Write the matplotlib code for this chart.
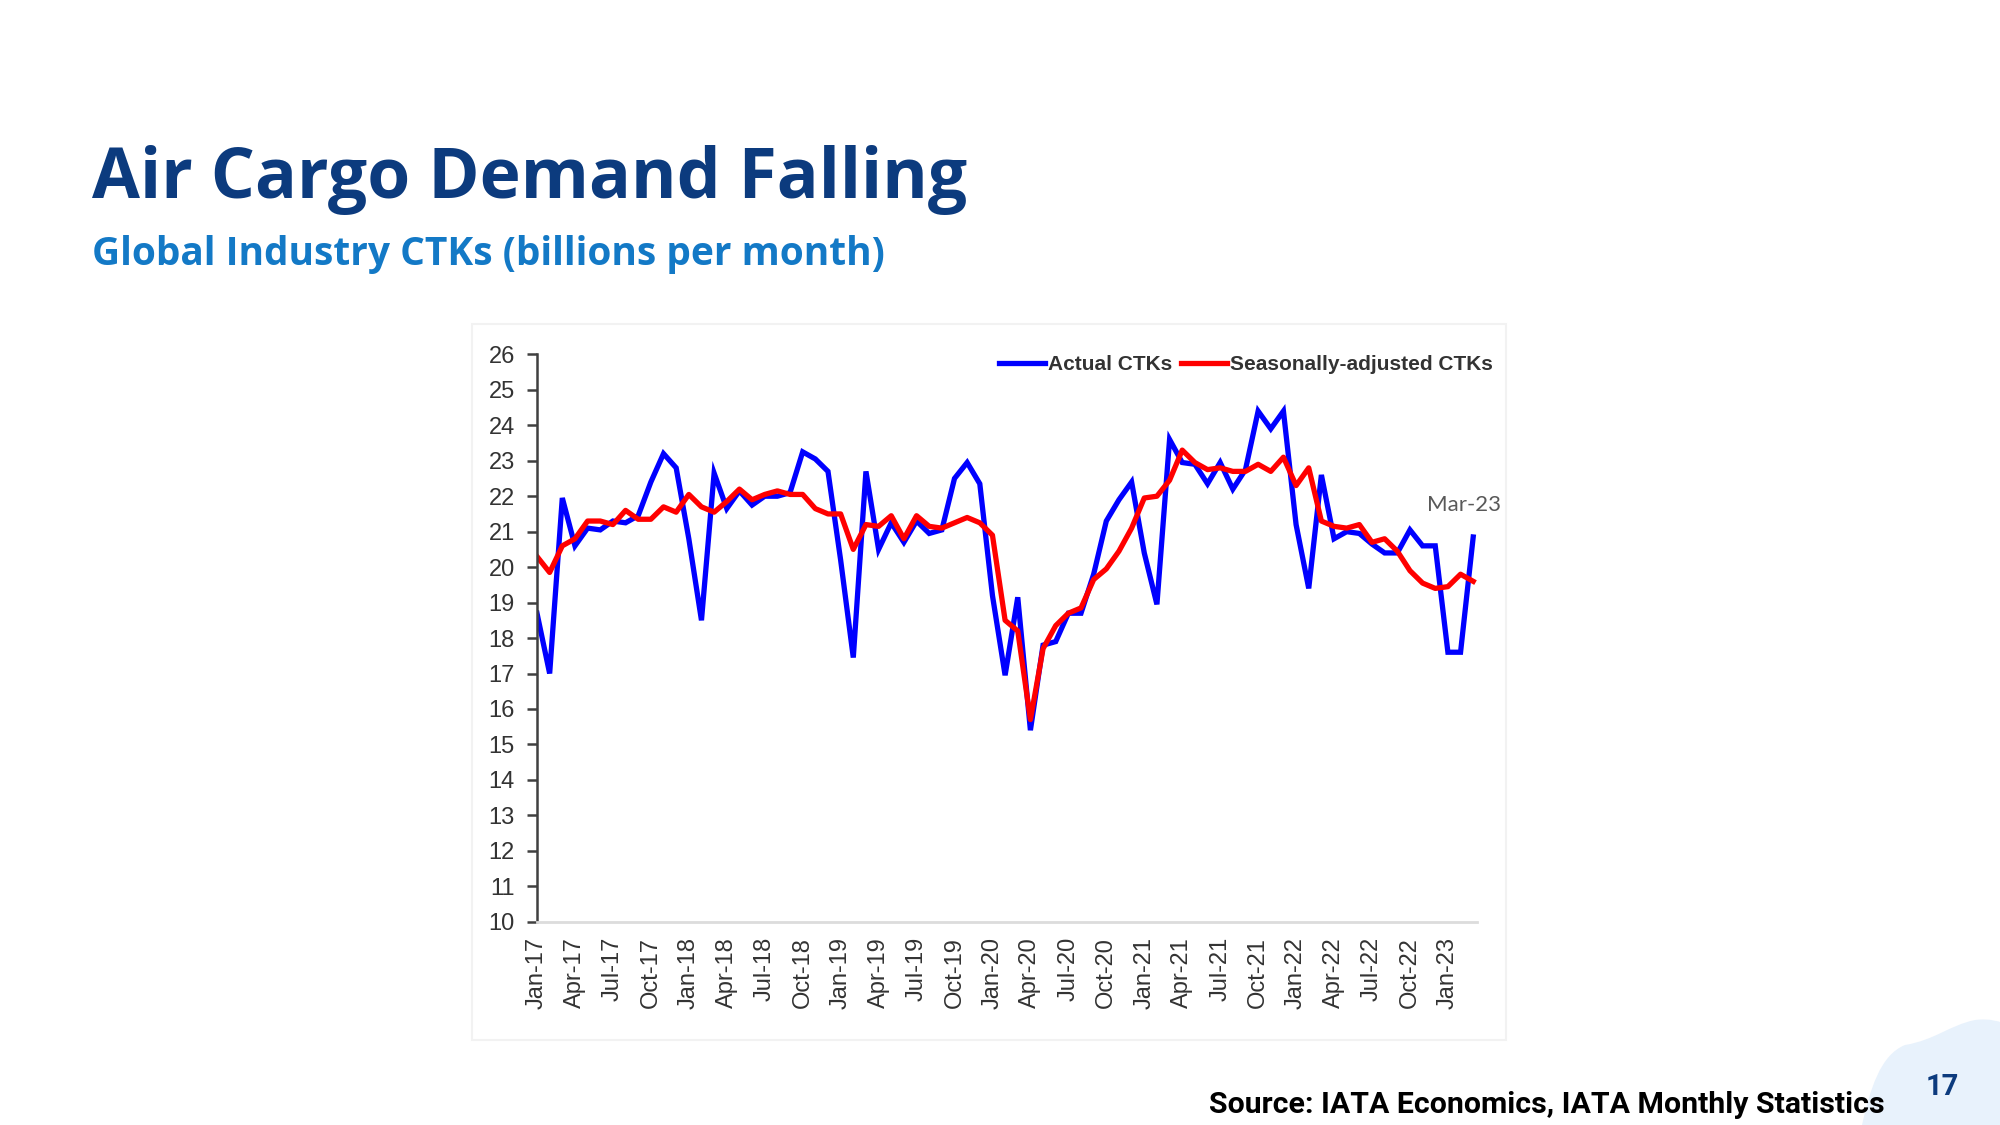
import matplotlib
matplotlib.use("Agg")
import matplotlib.pyplot as plt
import numpy as np
from matplotlib.path import Path
from matplotlib.patches import PathPatch, Rectangle

# ── Data: global industry CTKs, billions per month, Jan-17 .. Mar-23 ──
actual_ctks = [
    18.7, 17.0, 21.95, 20.6, 21.1, 21.05, 21.3, 21.25, 21.45, 22.4,
    23.2, 22.8, 20.8, 18.5, 22.65, 21.65, 22.15, 21.75, 22.0, 22.0,
    22.1, 23.25, 23.05, 22.7, 20.2, 17.45, 22.7, 20.5, 21.25, 20.7,
    21.3, 20.95, 21.05, 22.5, 22.95, 22.35, 19.2, 16.95, 19.15, 15.4,
    17.8, 17.9, 18.7, 18.7, 19.8, 21.3, 21.9, 22.4, 20.4, 18.95,
    23.6, 22.95, 22.9, 22.35, 22.95, 22.2, 22.75, 24.4, 23.9, 24.4,
    21.2, 19.4, 22.6, 20.8, 21.0, 20.95, 20.65, 20.4, 20.4, 21.05,
    20.6, 20.6, 17.6, 17.6, 20.85,
]
sa_ctks = [
    20.3, 19.85, 20.6, 20.8, 21.3, 21.3, 21.2, 21.6, 21.35, 21.35,
    21.7, 21.55, 22.05, 21.7, 21.55, 21.85, 22.2, 21.9, 22.05, 22.15,
    22.05, 22.05, 21.65, 21.5, 21.5, 20.5, 21.2, 21.15, 21.45, 20.8,
    21.45, 21.15, 21.1, 21.25, 21.4, 21.25, 20.9, 18.5, 18.2, 15.7,
    17.7, 18.35, 18.7, 18.85, 19.65, 19.95, 20.45, 21.1, 21.95, 22.0,
    22.45, 23.3, 22.95, 22.75, 22.8, 22.7, 22.7, 22.9, 22.7, 23.1,
    22.3, 22.8, 21.3, 21.15, 21.1, 21.2, 20.7, 20.8, 20.45, 19.9,
    19.55, 19.4, 19.45, 19.8, 19.6,
]
tick_labels = [
    "Jan-17", "Apr-17", "Jul-17", "Oct-17", "Jan-18", "Apr-18", "Jul-18",
    "Oct-18", "Jan-19", "Apr-19", "Jul-19", "Oct-19", "Jan-20", "Apr-20",
    "Jul-20", "Oct-20", "Jan-21", "Apr-21", "Jul-21", "Oct-21", "Jan-22",
    "Apr-22", "Jul-22", "Oct-22", "Jan-23",
]
y_ticks = list(range(10, 27))

NAVY = "#0c3b7e"
SUB_BLUE = "#1379c6"
C_ACTUAL = "#0000ff"
C_SA = "#ff0000"

months = np.arange(len(actual_ctks))

fig = plt.figure(figsize=(20, 11.25), dpi=100)
fig.patch.set_facecolor("white")

# ── Titles ──
fig.text(0.046, 0.824, "Air Cargo Demand Falling", fontsize=50, fontweight="bold",
         color=NAVY, family="Open Sans", va="baseline")
fig.text(0.046, 0.764, "Global Industry CTKs (billions per month)", fontsize=28,
         fontweight="bold", color=SUB_BLUE, family="Open Sans", va="baseline")

# faint frame of the pasted chart image (kept behind the axes)
fig.add_artist(Rectangle((0.236, 0.076), 0.517, 0.636, transform=fig.transFigure,
                         facecolor="white", edgecolor="#f2f2f2", linewidth=1.5,
                         zorder=-5))

# ── Chart ──
ax = fig.add_axes([0.2685, 0.1807, 0.47, 0.5043])
ax.patch.set_alpha(0)
ax.plot(months, actual_ctks, color=C_ACTUAL, lw=3.8, label="Actual CTKs",
        solid_joinstyle="miter")
ax.plot(months, sa_ctks, color=C_SA, lw=3.8, label="Seasonally-adjusted CTKs",
        solid_joinstyle="round")

ax.set_xlim(0, 74.3)
ax.set_ylim(10, 26)
ax.set_yticks(y_ticks)
ax.set_xticks(months[::3][:len(tick_labels)])
ax.set_xticklabels(tick_labels, rotation=90, family="Liberation Sans",
                   fontsize=17, color="#333333")
ax.tick_params(axis="x", length=0, pad=11)
ax.tick_params(axis="y", length=7, width=1.8, color="#404040", pad=9,
               labelsize=17, labelcolor="#333333")
for lab in ax.get_yticklabels():
    lab.set_family("Liberation Sans")

for side in ("top", "right"):
    ax.spines[side].set_visible(False)
ax.spines["left"].set_color("#404040")
ax.spines["left"].set_linewidth(1.8)
ax.spines["bottom"].set_color("#dcdcdc")
ax.spines["bottom"].set_linewidth(2)

ax.text(73.3, 21.75, "Mar-23", ha="center", va="center", fontsize=16,
        color="#595959", family="Lato")

leg = ax.legend(loc="center right", bbox_to_anchor=(0.7515, 0.676),
                bbox_transform=fig.transFigure, ncol=2, frameon=False,
                handlelength=2.2, handletextpad=0.15, columnspacing=0.4,
                borderpad=0, prop={"family": "Liberation Sans", "weight": "bold",
                                   "size": 15})
for t in leg.get_texts():
    t.set_color("#333333")

# ── Footer ──
fig.text(0.9425, 0.011, "Source: IATA Economics, IATA Monthly Statistics",
         fontsize=21.8, fontweight="bold", family="Roboto", color="black",
         ha="right", va="baseline")

# light blue blob behind the page number (figure pixel coordinates)
W, H = 2000, 1125
pts = [(1862, 1125), (1870, 1090), (1880, 1055), (1905, 1045),
       (1935, 1040), (1950, 1025), (1975, 1020),
       (1990, 1018), (2000, 1022), (2000, 1022),
       (2000, 1125), (1862, 1125)]
codes = [Path.MOVETO, Path.CURVE4, Path.CURVE4, Path.CURVE4,
         Path.CURVE4, Path.CURVE4, Path.CURVE4,
         Path.CURVE4, Path.CURVE4, Path.LINETO,
         Path.LINETO, Path.CLOSEPOLY]
verts = [(x / W, 1 - y / H) for x, y in pts]
fig.add_artist(PathPatch(Path(verts, codes), transform=fig.transFigure,
                         facecolor="#e8f2fc", edgecolor="none", zorder=-4))

fig.text(0.971, 0.034, "17", fontsize=21, fontweight="bold", family="Roboto",
         color=NAVY, ha="center", va="center")

fig.savefig("out.png", dpi=100, facecolor="white")
